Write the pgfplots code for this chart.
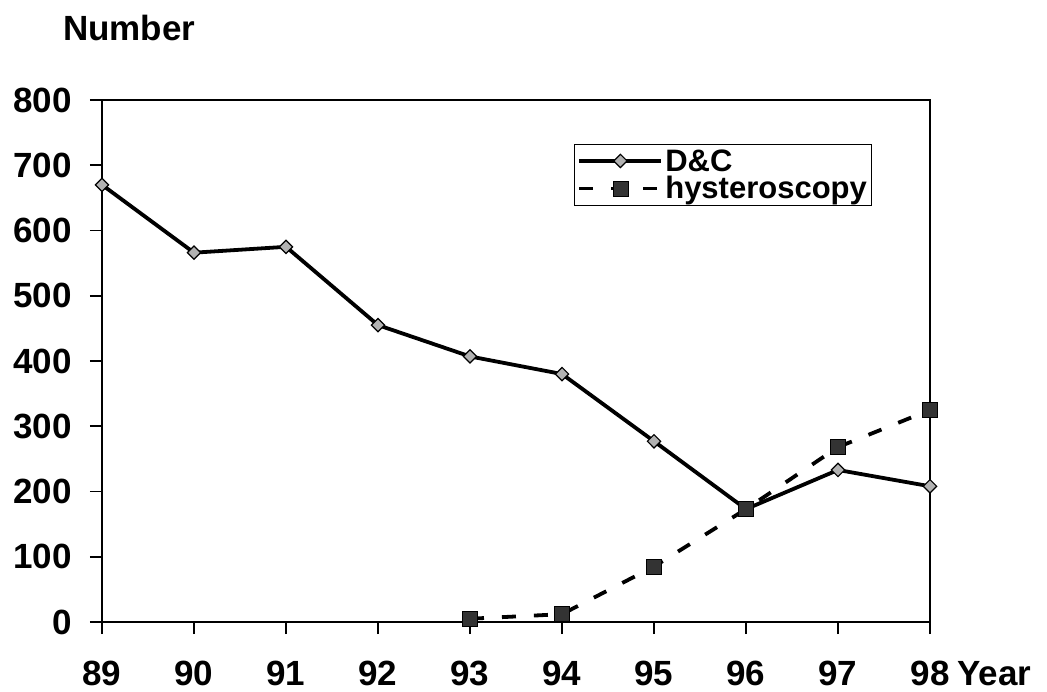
\documentclass[border=0pt]{standalone}
\usepackage{pgfplots}
\pgfplotsset{compat=1.18}
\usepackage{fontspec}
\setmainfont{Liberation Sans}
\begin{document}
\begin{tikzpicture}
\useasboundingbox (-102bp,-70bp) rectangle (945bp,622bp);
\begin{axis}[
  scale only axis, width=828bp, height=522bp,
  xmin=89, xmax=98, ymin=0, ymax=800,
  xtick={89,...,98}, ytick={0,100,...,800},
  tick align=outside, major tick length=12bp,
  tick style={line width=1.6bp, black},
  xtick pos=bottom, ytick pos=left,
  axis line style={line width=1.5bp},
  /pgf/number format/assume math mode=true,
  ticklabel style={font=\fontsize{35bp}{40bp}\selectfont\bfseries, inner sep=0pt},
  xticklabel style={anchor=base, yshift=-51bp},
  yticklabel style={anchor=east, xshift=-18bp},
  legend style={at={(rel axis cs:0.570,0.916)}, anchor=north west, draw=black, line width=1.1bp,
    font=\fontsize{31bp}{37bp}\selectfont\bfseries, inner sep=3bp, row sep=0bp},
  legend cell align=left,
  legend image code/.code={
    \draw[mark repeat=2, mark phase=2, #1] plot coordinates {(0bp,0bp) (41bp,0bp) (82bp,0bp)};},
  clip=false,
]
\addplot[black, line width=3.8bp, mark=square*, mark size=4.7bp, mark options={rotate=45, fill=gray!60, line width=1.2bp, solid}]
  coordinates {(89,670) (90,566) (91,575) (92,455) (93,407) (94,380) (95,277) (96,173) (97,233) (98,208)};
\addlegendentry{D\&C}
\addplot[black, line width=3.8bp, dash pattern=on 14bp off 18bp, mark=square*, mark size=7.5bp, mark options={fill=black!80, solid, line width=0.6bp}]
  coordinates {(93,5) (94,12) (95,85) (96,173) (97,268) (98,325)};
\addlegendentry{hysteroscopy}
\node[font=\fontsize{35bp}{40bp}\selectfont\bfseries, anchor=base west, inner sep=0pt] at (rel axis cs:1,0) [xshift=27bp, yshift=-63bp] {Year};
\node[font=\fontsize{35bp}{40bp}\selectfont\bfseries, anchor=base west, inner sep=0pt] at (rel axis cs:0,1) [xshift=-39bp, yshift=60bp] {Number};
\end{axis}
\end{tikzpicture}
\end{document}
